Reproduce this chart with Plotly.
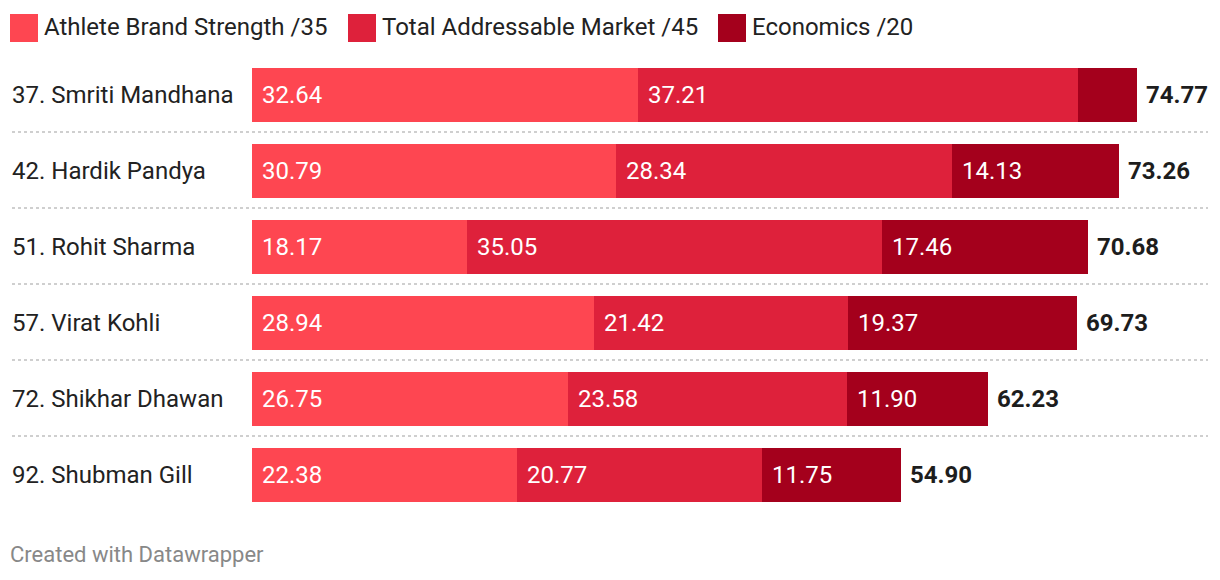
import plotly.graph_objects as go

players = ["37. Smriti Mandhana", "42. Hardik Pandya", "51. Rohit Sharma",
           "57. Virat Kohli", "72. Shikhar Dhawan", "92. Shubman Gill"]
brand = [32.64, 30.79, 18.17, 28.94, 26.75, 22.38]
market = [37.21, 28.34, 35.05, 21.42, 23.58, 20.77]
economics = [4.92, 14.13, 17.46, 19.37, 11.90, 11.75]
totals = [74.77, 73.26, 70.68, 69.73, 62.23, 54.90]
series_names = ["Athlete Brand Strength /35", "Total Addressable Market /45", "Economics /20"]
colors = ["#fe4651", "#de213b", "#a4001c"]

W, H = 1220, 580
PX_PER_UNIT = 11.83
X0 = 252
ROW_H = 76
ROW0 = 95
FS = 24

series = [brand, market, economics]
ys = list(range(len(players)))

fig = go.Figure()
for name, vals, col in zip(series_names, series, colors):
    fig.add_trace(go.Bar(
        y=ys, x=vals, name=name, orientation="h",
        marker=dict(color=col, line=dict(width=0)),
        width=54 / ROW_H, showlegend=False, hoverinfo="skip"))

annotations = []
shapes = []
font_family = "Roboto, Arial, sans-serif"

# category labels
for i, p in enumerate(players):
    annotations.append(dict(x=10 / W, xref="paper", y=i, yref="y", text=p,
                            xanchor="left", yanchor="middle", showarrow=False,
                            font=dict(size=FS, color="#222222", family=font_family)))

# in-bar values
for i in ys:
    start = 0.0
    for vals in series:
        v = vals[i]
        if v * PX_PER_UNIT > 80:
            annotations.append(dict(x=start, xref="x", y=i, yref="y", text=f"{v:.2f}",
                                    xanchor="left", yanchor="middle", xshift=8,
                                    showarrow=False,
                                    font=dict(size=FS, color="white", family=font_family)))
        start += v
    annotations.append(dict(x=totals[i], xref="x", y=i, yref="y",
                            text=f"<b>{totals[i]:.2f}</b>",
                            xanchor="left", yanchor="middle", xshift=7, showarrow=False,
                            font=dict(size=FS, color="#1d1d1d", family=font_family)))

# separators
for i in range(len(players) - 1):
    shapes.append(dict(type="line", xref="paper", yref="y", x0=12 / W, x1=1208 / W,
                       y0=i + 0.487, y1=i + 0.487,
                       line=dict(color="#cfcfcf", width=2, dash="dot")))

# custom legend
legend_x = [10, 348, 718]
for lx, name, col in zip(legend_x, series_names, colors):
    shapes.append(dict(type="rect", xref="paper", yref="paper",
                       x0=lx / W, x1=(lx + 28) / W, y0=1 - 42 / H, y1=1 - 14 / H,
                       fillcolor=col, line=dict(width=0)))
    annotations.append(dict(x=(lx + 32) / W, xref="paper", y=1 - 27 / H, yref="paper",
                            text=name, xanchor="left", yanchor="middle", showarrow=False,
                            font=dict(size=FS, color="#222222", family=font_family)))

# footer
annotations.append(dict(x=8 / W, xref="paper", y=1 - 554 / H, yref="paper",
                        text="Created with Datawrapper", xanchor="left", yanchor="middle",
                        showarrow=False,
                        font=dict(size=22, color="#888888", family=font_family)))

x_max = (W - X0) / PX_PER_UNIT
y_top = -ROW0 / ROW_H
y_bot = (H - ROW0) / ROW_H

fig.update_layout(
    width=W, height=H, barmode="stack",
    margin=dict(l=0, r=0, t=0, b=0),
    paper_bgcolor="white", plot_bgcolor="white",
    xaxis=dict(domain=[X0 / W, 1], range=[0, x_max], visible=False, fixedrange=True),
    yaxis=dict(domain=[0, 1], range=[y_bot, y_top], visible=False, fixedrange=True),
    annotations=annotations, shapes=shapes, bargap=0,
    font=dict(family=font_family),
)

fig.write_html("out.html", config={"displayModeBar": False},
               post_script="document.body.style.margin='0';document.body.style.overflow='hidden';")
